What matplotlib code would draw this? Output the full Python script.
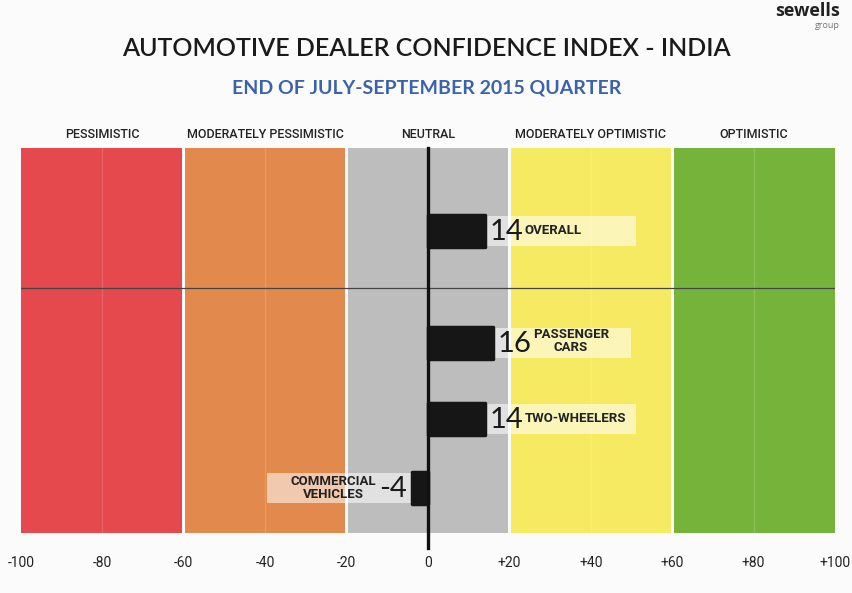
import matplotlib
matplotlib.use("Agg")
import matplotlib.pyplot as plt
from matplotlib.patches import Rectangle

# ---- data ----
zone_names = ["PESSIMISTIC", "MODERATELY PESSIMISTIC", "NEUTRAL",
              "MODERATELY OPTIMISTIC", "OPTIMISTIC"]
zone_edges = [-100, -60, -20, 20, 60, 100]
categories = ["OVERALL", "PASSENGER\nCARS", "TWO-WHEELERS", "COMMERCIAL\nVEHICLES"]
values = [14, 16, 14, -4]
tick_values = [-100, -80, -60, -40, -20, 0, 20, 40, 60, 80, 100]
tick_labels = ["-100", "-80", "-60", "-40", "-20", "0", "+20", "+40", "+60", "+80", "+100"]

# ---- layout / style ----
W, H = 853, 593
zone_colors = ["#e5484d", "#e2894d", "#bdbdbd", "#f7ea63", "#76b33b"]
bar_y = [83, 195, 271, 340]      # axis units (pixels from top of band)
bar_h = 32
box_lens = [37, 34, 37, 35.5]    # label box length in data units
divider_y = 140
LBL = ["Roboto", "DejaVu Sans"]

fig = plt.figure(figsize=(W / 100, H / 100), dpi=100)
fig.patch.set_facecolor("#fbfbfb")
ax = fig.add_axes([21 / W, 1 - 533 / H, (835 - 21) / W, (533 - 148) / H])
ax.set_xlim(-100, 100)
ax.set_ylim(385, 0)
ax.axis("off")

# zones
for i, c in enumerate(zone_colors):
    x0, x1 = zone_edges[i], zone_edges[i + 1]
    gap = 0.4 if i > 0 else 0
    gap2 = 0.4 if i < len(zone_colors) - 1 else 0
    ax.add_patch(Rectangle((x0 + gap, 0), (x1 - x0) - gap - gap2, 385,
                           facecolor=c, edgecolor="none", zorder=1))
    ax.text((x0 + x1) / 2, -13, zone_names[i], ha="center", va="center",
            fontsize=9, color="#222222", family=LBL, fontweight="medium",
            clip_on=False)
# subtle inner lines
for xv in [-80, -40, 40, 80]:
    ax.axvline(xv, color="white", alpha=0.15, lw=1, zorder=1.5)

# divider
ax.axhline(divider_y, color="#444444", lw=0.9, zorder=2)

# zero line
ax.plot([0, 0], [0, 400], color="#111111", lw=2.4, zorder=5, clip_on=False)

# bars
ax.barh(bar_y, values, height=bar_h, color="#161616", edgecolor="#161616",
        linewidth=2.5, joinstyle="round", zorder=4)

inv = ax.transData.inverted()
for y, v, name, bl in zip(bar_y, values, categories, box_lens):
    if v >= 0:
        ax.add_patch(Rectangle((v, y - bar_h / 2 + 1), bl, bar_h - 2,
                               facecolor="white", alpha=0.55, edgecolor="none", zorder=3))
        t = ax.text(v + 1.2, y + 1, str(v), ha="left", va="center", fontsize=21,
                    color="#1a1a1a", family="Lato", zorder=6)
        fig.canvas.draw()
        bb = t.get_window_extent()
        xend = inv.transform((bb.x1, bb.y0))[0]
        ax.text(xend + 0.2, y - (2 if "\n" in name else 0), name, ha="left",
                va="center", fontsize=9.5,
                fontweight="bold", color="#222222", linespacing=1.0,
                multialignment="center", family=LBL, zorder=6)
    else:
        ax.add_patch(Rectangle((v - bl, y - bar_h / 2 + 1), bl, bar_h - 2,
                               facecolor="white", alpha=0.55, edgecolor="none", zorder=3))
        t = ax.text(v - 1.2, y + 1, str(v), ha="right", va="center", fontsize=21,
                    color="#1a1a1a", family="Lato", zorder=6)
        fig.canvas.draw()
        bb = t.get_window_extent()
        xstart = inv.transform((bb.x0, bb.y0))[0]
        ax.text(xstart - 0.8, y, name, ha="right", va="center", fontsize=9.5,
                fontweight="bold", color="#222222", linespacing=1.0,
                multialignment="center", family=LBL, zorder=6)

# tick labels
for tv, tl in zip(tick_values, tick_labels):
    ax.text(tv, 415, tl, ha="center", va="center", fontsize=10, color="#222222",
            family=LBL, clip_on=False)

# titles
fig.text(0.5, 1 - 48 / H, "AUTOMOTIVE DEALER CONFIDENCE INDEX - INDIA", ha="center",
         va="center", fontsize=18, color="#1a1a1a", family="Lato", fontweight="semibold")
fig.text(0.5, 1 - 88 / H, "END OF JULY-SEPTEMBER 2015 QUARTER", ha="center",
         va="center", fontsize=14, color="#3a62ad", family="Lato", fontweight="bold")

# logo
fig.text(840 / W, 1 - 11 / H, "sewells", ha="right", va="center", fontsize=13,
         fontweight="bold", color="#222222", family="Open Sans")
fig.text(840 / W, 1 - 26 / H, "group", ha="right", va="center", fontsize=6.5,
         color="#777777", family="Open Sans")

fig.savefig("out.png", dpi=100, facecolor=fig.get_facecolor())
